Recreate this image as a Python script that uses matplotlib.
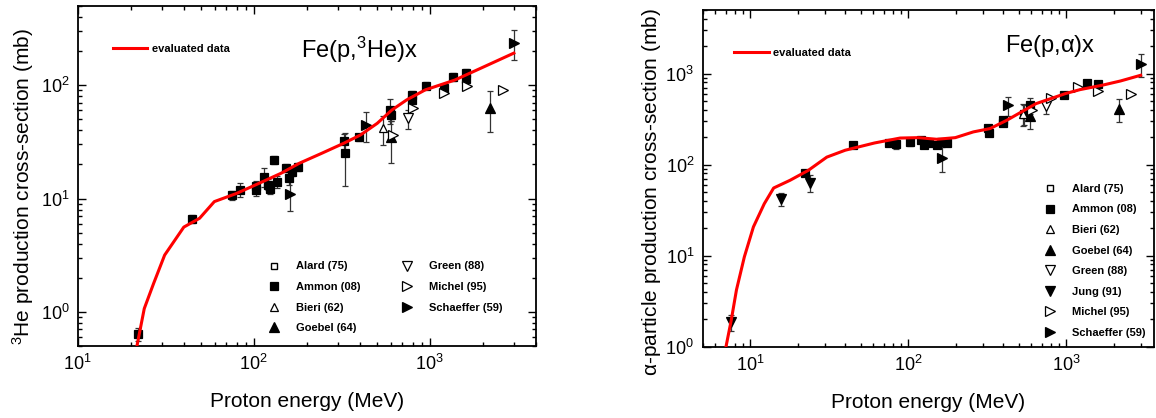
#!/usr/bin/env python3
"""Fe(p,3He)x and Fe(p,alpha)x production cross-sections vs proton energy"""
import matplotlib
matplotlib.use('Agg')
import matplotlib.pyplot as plt
from matplotlib.ticker import LogFormatterMathtext, LogLocator

plt.rcParams['font.family'] = ['Liberation Sans', 'DejaVu Sans']
plt.rcParams['mathtext.default'] = 'regular'

# ---------------- 3He panel ----------------
he_eval_x = [21.6, 23.9, 27.0, 31.2, 40.1, 49.3, 59.8, 80, 107, 143, 182, 244,
             326, 405, 504, 611, 741, 944, 1390, 1950, 3013]
he_eval_y = [0.48, 1.07, 1.78, 3.17, 5.6, 6.7, 9.4, 11.1, 13.6, 16.7, 20.5, 25.1,
             30.8, 36.4, 46.1, 60.5, 74.2, 90.9, 111, 141, 192]

he_ammon_x = [21.9, 44.8, 75.2, 83.9, 103, 103, 114, 121, 124, 130, 135, 152, 159,
              165, 178, 326, 330, 395, 596, 601, 796, 796, 953, 1202, 1357, 1606, 1606]
he_ammon_y = [0.635, 6.6, 10.7, 12.0, 11.9, 12.9, 15.6, 13.3, 12.1, 21.9, 14.1, 18.7,
              15.1, 17.3, 19.1, 32.0, 25.4, 34.7, 60.5, 54.7, 82.2, 74, 99, 94, 119, 128, 113]
he_ammon_e = [0.08, 0.5, 0.9, 1.6, 1.3, 1.5, 3.0, 1.5, 1.2, 1.8, 1.6, 1.5, 2.0,
              1.5, 1.6, 5.0, 12.5, 2.5, 15, 6, 7, 6, 7, 7, 9, 10, 9]
he_schaeffer_x = [162, 435, 3013]
he_schaeffer_y = [11.0, 44.7, 238]
he_schaeffer_e = [3.2, 13, 70]
he_goebel_x = [604, 2197]
he_goebel_y = [34.8, 63.5]
he_goebel_e = [14, 25]
he_bieri_x = [541]
he_bieri_y = [41.7]
he_bieri_e = [12]
he_green_x = [751]
he_green_y = [51]
he_green_e = [10]
he_michel_x = [616, 809, 1202, 1622, 2606]
he_michel_y = [36.4, 62.6, 86, 98.7, 91]

# ---------------- alpha panel ----------------
al_eval_x = [7.0, 7.6, 8.2, 9.2, 10.5, 12.3, 14.1, 17.9, 23.4, 30.6, 40.0, 61.3, 89,
             116, 152, 199, 259, 330, 421, 521, 645, 799, 988, 1225, 1689, 2208, 2963]
al_eval_y = [0.95, 1.95, 4.2, 9.7, 20.7, 37.2, 55.4, 67.3, 86.7, 121, 144, 173, 196,
             198, 190, 198, 229, 249, 307, 379, 468, 531, 603, 667, 745, 830, 959]

al_ammon_x = [22.2, 45.0, 75.9, 83.5, 103.5, 121.5, 126, 135, 152, 161, 177, 322, 325,
              398, 398, 543, 595, 963, 1349, 1584]
al_ammon_y = [81, 163, 173, 167, 177, 185, 166, 173, 163, 177, 173, 253, 223,
              287, 307, 363, 449, 588, 789, 776]
al_ammon_e = [6, 10, 12, 20, 15, 14, 12, 12, 12, 14, 12, 20, 18,
              22, 22, 90, 90, 40, 50, 50]
al_jung_x = [7.53, 15.7, 24.0]
al_jung_y = [1.87, 42.3, 63]
al_jung_e = [0.37, 7, 13]
al_schaeffer_x = [163, 432, 2990]
al_schaeffer_y = [119, 449, 1288]
al_schaeffer_e = [36, 110, 360]
al_goebel_x = [595, 2175]
al_goebel_y = [340, 412]
al_goebel_e = [95, 120]
al_bieri_x = [535]
al_bieri_y = [363]
al_bieri_e = [100]
al_green_x = [750]
al_green_y = [437]
al_green_e = [75]
al_michel_x = [611, 798, 1195, 1603, 2589]
al_michel_y = [395, 545, 713, 646, 593]

W, H = 1156, 418
fig = plt.figure(figsize=(W / 100, H / 100), dpi=100)
ax1 = fig.add_axes([77.7 / W, 72 / H, 457.8 / W, 340 / H])
ax2 = fig.add_axes([702.5 / W, 71.3 / H, 451.5 / W, 336.7 / H])

EB = dict(fmt='none', ecolor='#333333', elinewidth=0.9, capsize=2.5, capthick=0.9, zorder=2)
MK = dict(linestyle='none', color='black', zorder=3)


def draw_series(ax, x, y, e, marker, filled, size, label):
    if e is not None:
        ax.errorbar(x, y, yerr=e, **EB)
    ax.plot(x, y, marker=marker, markersize=size, markeredgewidth=0.9,
            markerfacecolor='black' if filled else 'white', label=label, **MK)


def style_axes(ax):
    ax.set_xscale('log')
    ax.set_yscale('log')
    for s in ax.spines.values():
        s.set_linewidth(1.3)
    ax.tick_params(which='both', direction='in', top=True, right=True, width=1.0,
                   labelsize=13)
    ax.tick_params(which='major', length=6, pad=6)
    ax.tick_params(which='minor', length=3)
    ax.xaxis.set_major_formatter(LogFormatterMathtext())
    ax.yaxis.set_major_formatter(LogFormatterMathtext())
    ax.xaxis.set_minor_locator(LogLocator(subs=range(2, 10)))
    ax.yaxis.set_minor_locator(LogLocator(subs=range(2, 10)))
    ax.set_xlabel('Proton energy (MeV)', fontsize=15, labelpad=13)


leg_font = dict(weight='bold', size=8)

# left panel
style_axes(ax1)
ax1.set_xlim(10, 4000)
ax1.set_ylim(0.5, 500)
ln1, = ax1.plot(he_eval_x, he_eval_y, color='#ff0000', linewidth=2.2, zorder=4,
                label='evaluated data')
ax1.plot([], [], marker='s', markersize=5, markerfacecolor='white', label='Alard (75)', **MK)
draw_series(ax1, he_ammon_x, he_ammon_y, he_ammon_e, 's', True, 5.5, 'Ammon (08)')
draw_series(ax1, he_bieri_x, he_bieri_y, he_bieri_e, '^', False, 6, 'Bieri (62)')
draw_series(ax1, he_goebel_x, he_goebel_y, he_goebel_e, '^', True, 6.5, 'Goebel (64)')
draw_series(ax1, he_green_x, he_green_y, he_green_e, 'v', False, 6.5, 'Green (88)')
draw_series(ax1, he_michel_x, he_michel_y, None, '>', False, 6.5, 'Michel (95)')
draw_series(ax1, he_schaeffer_x, he_schaeffer_y, he_schaeffer_e, '>', True, 7, 'Schaeffer (59)')
ax1.set_ylabel('$^{3}$He production cross-section (mb)', fontsize=15)
ax1.yaxis.set_label_coords(-0.09, 0.468)
ax1.text(0.616, 0.87, 'Fe(p,$^{3}$He)x', transform=ax1.transAxes, fontsize=17,
         ha='center', va='center')

l1 = ax1.legend(handles=[ln1], loc='upper left', bbox_to_anchor=(0.065, 0.905),
                frameon=False, prop=leg_font, handlelength=3.1, handletextpad=0.4,
                borderpad=0)
ax1.add_artist(l1)
h, lab = ax1.get_legend_handles_labels()
ax1.legend(h[1:], lab[1:], ncol=2, loc='upper left', bbox_to_anchor=(0.405, 0.265),
           frameon=False, prop=leg_font, handlelength=1.0, handletextpad=1.5,
           labelspacing=0.95, columnspacing=3.65, borderpad=0)

# right panel
style_axes(ax2)
ax2.set_xlim(5, 3600)
ax2.set_ylim(1, 5000)
ln2, = ax2.plot(al_eval_x, al_eval_y, color='#ff0000', linewidth=2.2, zorder=4,
                label='evaluated data')
ax2.plot([], [], marker='s', markersize=5, markerfacecolor='white', label='Alard (75)', **MK)
draw_series(ax2, al_ammon_x, al_ammon_y, al_ammon_e, 's', True, 5.5, 'Ammon (08)')
draw_series(ax2, al_bieri_x, al_bieri_y, al_bieri_e, '^', False, 6, 'Bieri (62)')
draw_series(ax2, al_goebel_x, al_goebel_y, al_goebel_e, '^', True, 6.5, 'Goebel (64)')
draw_series(ax2, al_green_x, al_green_y, al_green_e, 'v', False, 6.5, 'Green (88)')
draw_series(ax2, al_jung_x, al_jung_y, al_jung_e, 'v', True, 6.5, 'Jung (91)')
draw_series(ax2, al_michel_x, al_michel_y, None, '>', False, 6.5, 'Michel (95)')
draw_series(ax2, al_schaeffer_x, al_schaeffer_y, al_schaeffer_e, '>', True, 7, 'Schaeffer (59)')
ax2.set_ylabel(r'$\alpha$-particle production cross-section (mb)', fontsize=15)
ax2.yaxis.set_label_coords(-0.088, 0.459)
ax2.text(0.77, 0.893, r'Fe(p,$\alpha$)x', transform=ax2.transAxes, fontsize=17,
         ha='center', va='center')

l2 = ax2.legend(handles=[ln2], loc='upper left', bbox_to_anchor=(0.058, 0.905),
                frameon=False, prop=leg_font, handlelength=3.1, handletextpad=0.4,
                borderpad=0)
ax2.add_artist(l2)
h, lab = ax2.get_legend_handles_labels()
ax2.legend(h[1:], lab[1:], ncol=1, loc='upper left', bbox_to_anchor=(0.745, 0.5),
           frameon=False, prop=leg_font, handlelength=1.0, handletextpad=1.5,
           labelspacing=0.95, borderpad=0)

fig.savefig('out.png', dpi=100)
